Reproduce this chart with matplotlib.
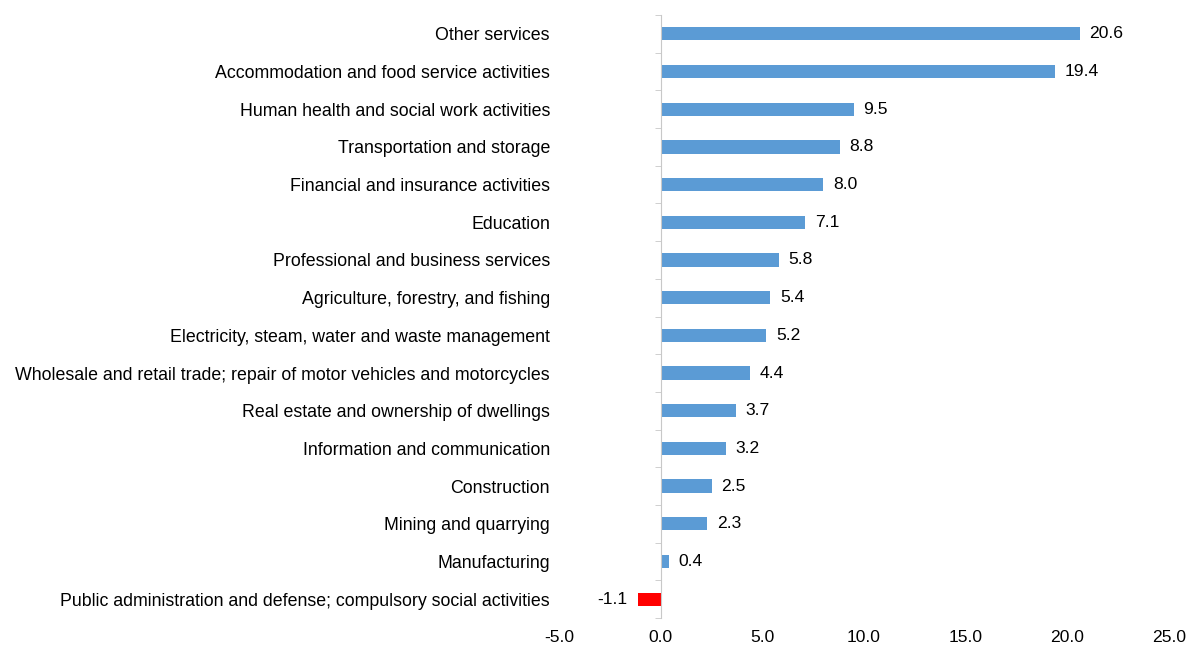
import matplotlib.pyplot as plt
import numpy as np

categories = [
    "Public administration and defense; compulsory social activities",
    "Manufacturing",
    "Mining and quarrying",
    "Construction",
    "Information and communication",
    "Real estate and ownership of dwellings",
    "Wholesale and retail trade; repair of motor vehicles and motorcycles",
    "Electricity, steam, water and waste management",
    "Agriculture, forestry, and fishing",
    "Professional and business services",
    "Education",
    "Financial and insurance activities",
    "Transportation and storage",
    "Human health and social work activities",
    "Accommodation and food service activities",
    "Other services",
]
values = [-1.1, 0.4, 2.3, 2.5, 3.2, 3.7, 4.4, 5.2, 5.4, 5.8, 7.1, 8.0, 8.8, 9.5, 19.4, 20.6]
xticks = [-5, 0, 5, 10, 15, 20, 25]

plt.rcParams['font.family'] = ['Liberation Sans', 'DejaVu Sans']
fs_lab = 12.8
fs_val = 12.6

fig = plt.figure(figsize=(11.88, 6.45), dpi=100)
ax = fig.add_axes([559 / 1188, 1 - 618 / 645, 610 / 1188, 603 / 645])

y = np.arange(len(categories))
colors = ['#FF0000' if v < 0 else '#5B9BD5' for v in values]
ax.barh(y, values, height=0.35, color=colors, zorder=2)

# data labels
for yi, v in zip(y, values):
    if v < 0:
        ax.annotate(f"{v:.1f}", (v, yi), xytext=(-8, 0), textcoords='offset points',
                    ha='right', va='center', fontsize=fs_val)
    else:
        ax.annotate(f"{v:.1f}", (v, yi), xytext=(7, 0), textcoords='offset points',
                    ha='left', va='center', fontsize=fs_val)

ax.set_xlim(-5, 25)
ax.set_ylim(-0.5, len(categories) - 0.5)
ax.set_xticks(xticks)
ax.set_xticklabels([f"{t:.1f}" for t in xticks])
ax.set_yticks(y)
ax.set_yticklabels(categories)
ax.set_yticks(np.arange(-0.5, len(categories)), minor=True)

# vertical axis line at zero with tick marks between categories
for s in ['top', 'bottom', 'left']:
    ax.spines[s].set_visible(False)
ax.spines['right'].set_position(('data', 0))
ax.spines['right'].set_color('#C8C8C8')

ax.tick_params(axis='x', length=0, pad=9, labelsize=fs_val)
ax.tick_params(axis='y', which='major', length=0, pad=6.5, labelsize=fs_lab)
ax.tick_params(axis='y', which='minor', left=False, right=True, direction='in',
               length=4, color='#C8C8C8')

fig.savefig('out.png', dpi=100)
